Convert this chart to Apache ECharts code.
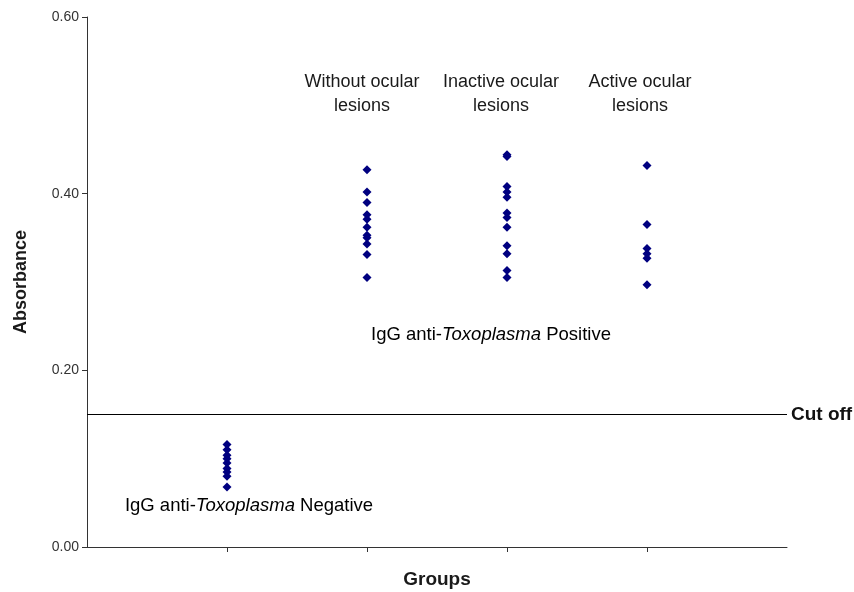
<!DOCTYPE html>
<html>
<head>
<meta charset="utf-8">
<script src="https://cdn.jsdelivr.net/npm/echarts@6/dist/echarts.min.js"></script>
<style>html,body{margin:0;padding:0;background:#fff;}#c{width:854px;height:592px;}</style>
</head>
<body>
<div id="c"></div>
<script>
// x positions of groups
const groupPositions = [1, 2, 3, 4];
const groupNames = ['IgG anti-Toxoplasma Negative', 'Without ocular lesions', 'Inactive ocular lesions', 'Active ocular lesions'];
// absorbance values per group
const negativeValues = [0.116, 0.110, 0.104, 0.100, 0.095, 0.089, 0.085, 0.080, 0.068];
const withoutLesionValues = [0.427, 0.402, 0.390, 0.376, 0.371, 0.362, 0.353, 0.350, 0.343, 0.331, 0.305];
const inactiveLesionValues = [0.444, 0.442, 0.408, 0.402, 0.396, 0.378, 0.373, 0.362, 0.341, 0.332, 0.313, 0.305];
const activeLesionValues = [0.432, 0.365, 0.338, 0.332, 0.327, 0.297];
const cutOffValue = 0.152;
const yTicks = [0, 0.2, 0.4, 0.6];

const groups = [negativeValues, withoutLesionValues, inactiveLesionValues, activeLesionValues];
const points = [];
groups.forEach((vals, i) => vals.forEach(v => points.push([groupPositions[i], v])));

const chart = echarts.init(document.getElementById('c'));
const font = 'Arial, "Liberation Sans", sans-serif';
const txt = '#1a1a1a';
const ann = (text, x, y) => ({ type: 'text', style: {
  text, x, y, align: 'center', verticalAlign: 'middle',
  font: '18px ' + font, fill: txt, lineHeight: 24 } });
const rich = { a: { fontFamily: font, fontSize: 18.5, color: txt }, i: { fontFamily: font, fontSize: 18.5, fontStyle: 'italic', color: txt } };
chart.setOption({
  animation: false,
  backgroundColor: '#fff',
  grid: { left: 87, right: 67, top: 17, bottom: 45, outerBoundsMode: 'none', containLabel: false },
  xAxis: {
    type: 'value', min: 0, max: 5, interval: 1,
    name: 'Groups', nameLocation: 'middle', nameGap: 23,
    nameTextStyle: { fontFamily: font, fontSize: 19, fontWeight: 'bold', color: txt },
    axisLine: { show: true, onZero: false, lineStyle: { color: '#333', width: 1 } },
    axisTick: { show: true, length: 5, lineStyle: { color: '#333' }, customValues: [1, 2, 3, 4] },
    axisLabel: { show: false },
    splitLine: { show: false }
  },
  yAxis: {
    type: 'value', min: 0, max: 0.6, interval: 0.2,
    name: 'Absorbance', nameLocation: 'middle', nameGap: 57,
    nameTextStyle: { fontFamily: font, fontSize: 18, fontWeight: 'bold', color: txt },
    axisLine: { show: true, lineStyle: { color: '#333', width: 1 } },
    axisTick: { show: true, length: 5, lineStyle: { color: '#333' } },
    axisLabel: { fontFamily: font, fontSize: 14, color: '#333', margin: 8,
      formatter: v => v.toFixed(2) },
    splitLine: { show: false }
  },
  series: [{
    type: 'scatter',
    data: points,
    symbol: 'diamond',
    symbolSize: 9,
    itemStyle: { color: '#000080', opacity: 1 },
    markLine: {
      silent: true, symbol: 'none',
      lineStyle: { color: '#000', width: 1, type: 'solid' },
      label: { show: true, position: 'end', formatter: 'Cut off', fontFamily: font,
        fontSize: 19, fontWeight: 'bold', color: '#111', distance: 4 },
      data: [{ yAxis: cutOffValue }]
    }
  }],
  graphic: [
    ann('Without ocular\nlesions', 362, 94),
    ann('Inactive ocular\nlesions', 501, 94),
    ann('Active ocular\nlesions', 640, 94),
    { type: 'text', style: {
      text: '{a|IgG anti-}{i|Toxoplasma}{a| Positive}', x: 491, y: 335, align: 'center', verticalAlign: 'middle', rich } },
    { type: 'text', style: {
      text: '{a|IgG anti-}{i|Toxoplasma}{a| Negative}', x: 249, y: 506, align: 'center', verticalAlign: 'middle', rich } }
  ]
});
</script>
</body>
</html>
